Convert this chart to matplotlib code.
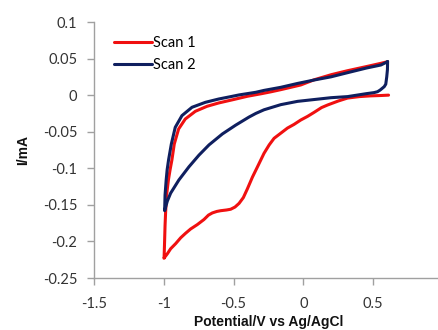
import matplotlib
matplotlib.use("Agg")
import matplotlib.pyplot as plt

# Scan 1 (red): lower branch from 0.6 V to -1 V, then upper branch back to 0.6 V
scan1_x = [0.61, 0.555, 0.48, 0.40, 0.316, 0.25, 0.173, 0.13, 0.077, 0.03, -0.019, -0.067,
           -0.114, -0.162, -0.210, -0.245, -0.282, -0.329, -0.365, -0.401, -0.43, -0.461,
           -0.49, -0.521, -0.55, -0.593, -0.62, -0.652, -0.68, -0.712, -0.76, -0.808, -0.845,
           -0.879, -0.915, -0.951, -0.975, -0.999,
           -0.998, -0.994, -0.991, -0.987, -0.980, -0.967, -0.955, -0.942, -0.925, -0.894,
           -0.846, -0.774, -0.691, -0.607, -0.50, -0.40, -0.30, -0.234, -0.162, -0.019, 0.077,
           0.2, 0.316, 0.45, 0.555, 0.603]
scan1_y = [0.0, -0.0005, -0.001, -0.002, -0.004, -0.008, -0.0135, -0.017, -0.0235, -0.029, -0.034,
           -0.040, -0.045, -0.052, -0.059, -0.068, -0.0795, -0.098, -0.112, -0.128, -0.140,
           -0.148, -0.153, -0.156, -0.157, -0.158, -0.159, -0.161, -0.164, -0.170, -0.177,
           -0.183, -0.189, -0.195, -0.203, -0.210, -0.217, -0.223,
           -0.223, -0.198, -0.178, -0.160, -0.1365, -0.116, -0.102, -0.0887, -0.0668, -0.0463,
           -0.0326, -0.0221, -0.0153, -0.0107, -0.006, -0.0015, 0.002, 0.0045, 0.0075, 0.0139, 0.021,
           0.028, 0.0334, 0.039, 0.0435, 0.0457]

# Scan 2 (blue): closed loop
scan2_x = [0.603, 0.602, 0.597, 0.59, 0.579, 0.55, 0.531, 0.507, 0.45, 0.316, 0.197, 0.077,
           -0.042, -0.162, -0.282, -0.341, -0.390, -0.485, -0.580, -0.676, -0.748, -0.820,
           -0.892, -0.951, -0.975, -0.994,
           -0.991, -0.983, -0.976, -0.966, -0.946, -0.918, -0.870, -0.798, -0.702, -0.607,
           -0.52, -0.461, -0.341, -0.282, -0.162, -0.042, 0.077, 0.197, 0.316,
           0.45, 0.555, 0.603]
scan2_y = [0.0457, 0.035, 0.025, 0.015, 0.0116, 0.007, 0.0047, 0.0035, 0.002, -0.002, -0.0035,
           -0.006, -0.0085, -0.013, -0.020, -0.025, -0.030, -0.041, -0.053, -0.068, -0.082,
           -0.098, -0.116, -0.134, -0.145, -0.158,
           -0.1365, -0.116, -0.102, -0.0887, -0.0668, -0.044, -0.028, -0.0166, -0.0098, -0.0053,
           -0.002, 0.0003, 0.0039, 0.0065, 0.0107, 0.016, 0.0207, 0.025, 0.0307,
           0.037, 0.0412, 0.0457]

x_ticks = [-1.5, -1, -0.5, 0, 0.5, 1]
x_tick_labels = ["-1.5", "-1", "-0.5", "0", "0.5", "1"]
y_ticks = [0.1, 0.05, 0, -0.05, -0.1, -0.15, -0.2, -0.25]
y_tick_labels = ["0.1", "0.05", "0", "-0.05", "-0.1", "-0.15", "-0.2", "-0.25"]

W, H = 439, 330
fig = plt.figure(figsize=(W / 100, H / 100), dpi=100)
left, right, top, bottom = 94, 443, 22, 278
ax = fig.add_axes([left / W, 1 - bottom / H, (right - left) / W, (bottom - top) / H])

red = "#F01010"
navy = "#0F1F5F"
ax.plot(scan1_x, scan1_y, color=red, lw=2.2, label="Scan 1",
        solid_joinstyle="round", solid_capstyle="round")
ax.plot(scan2_x, scan2_y, color=navy, lw=2.2, label="Scan 2",
        solid_joinstyle="round", solid_capstyle="round")

ax.set_xlim(-1.5, 1.0)
ax.set_ylim(-0.25, 0.1)
ax.set_xticks(x_ticks)
ax.set_xticklabels(x_tick_labels)
ax.set_yticks(y_ticks)
ax.set_yticklabels(y_tick_labels)

for s in ["top", "right"]:
    ax.spines[s].set_visible(False)
for s in ["left", "bottom"]:
    ax.spines[s].set_color("#A0A0A0")
    ax.spines[s].set_linewidth(1.0)
ax.tick_params(axis="both", color="#A0A0A0", length=5, width=1.0, direction="out",
               labelsize=10.5, labelcolor="#333333")
ax.tick_params(axis="x", pad=9)
ax.tick_params(axis="y", pad=7)
for lab in ax.get_xticklabels() + ax.get_yticklabels():
    lab.set_family("Lato")

fig.text((left + right) / 2 / W, 1 - 322 / H, "Potential/V vs Ag/AgCl", ha="center", va="center",
         fontsize=10, fontweight="bold", family="Liberation Sans", color="#111111")
fig.text(23 / W, 1 - 150 / H, "I/mA", ha="center", va="center", rotation=90,
         fontsize=10, fontweight="bold", family="Liberation Sans", color="#111111")

leg = ax.legend(loc="upper left", bbox_to_anchor=((114 - left) / (right - left), 1 - (36 - top) / (bottom - top)),
                frameon=False, handlelength=2.6, handletextpad=0.1, labelspacing=0.55,
                borderaxespad=0, borderpad=0, prop={"family": "Lato", "size": 10.5})

fig.savefig("out.png", dpi=100)
